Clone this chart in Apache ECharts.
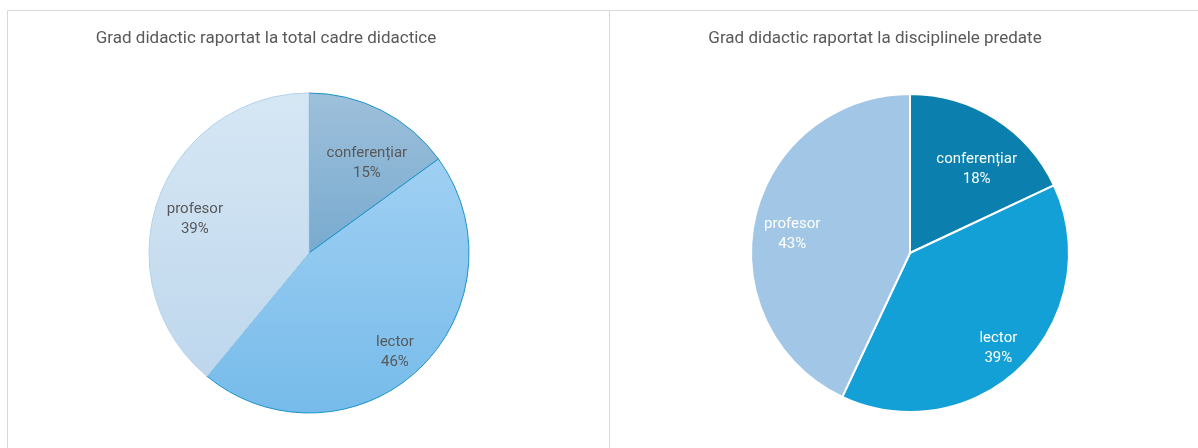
<!DOCTYPE html>
<html>
<head>
<meta charset="utf-8">
<script src="https://cdn.jsdelivr.net/npm/echarts@6/dist/echarts.min.js"></script>
<style>
  html, body { margin: 0; padding: 0; background: #fff; }
  #chart { width: 1198px; height: 448px; }
</style>
</head>
<body>
<div id="chart"></div>
<script>
// categorii si procente
const categories = ["conferențiar", "lector", "profesor"];
const totalCadre = [15, 46, 39];
const disciplinePredate = [18, 39, 43];
const titles = ["Grad didactic raportat la total cadre didactice", "Grad didactic raportat la disciplinele predate"];

// cat de departe de centru stau etichetele (fata de pozitia "inside") + mic ajustaj in px
const labelPush = [1.35, 1.6, 1.5];
const labelNudge = [[7, 10], [-5, 2], [3, 8]];

const leftStyles = [
  { color: grad("#9ec0db", "#78aacf"), borderColor: "#1a93c9", borderWidth: 1 },
  { color: grad("#a0d0f3", "#76bbea"), borderColor: "#1a93c9", borderWidth: 1 },
  { color: grad("#d6e7f4", "#bed7ed"), borderColor: "#b3d2ea", borderWidth: 1 }
];
const rightColors = ["#0b80ae", "#12a0d7", "#a2c7e6"];

function grad(a, b) {
  return { type: "linear", x: 0, y: 0, x2: 0, y2: 1, colorStops: [{ offset: 0, color: a }, { offset: 1, color: b }] };
}

const chart = echarts.init(document.getElementById("chart"));
const font = "Roboto";

function pushOut(cx, cy) {
  return function (params) {
    const i = params.dataIndex;
    const k = labelPush[i];
    const r = params.labelRect;
    const x = r.x + r.width / 2, y = r.y + r.height / 2;
    return {
      x: cx + (x - cx) * k + labelNudge[i][0],
      y: cy + (y - cy) * k + labelNudge[i][1],
      align: "center", verticalAlign: "middle"
    };
  };
}

chart.setOption({
  animation: false,
  graphic: [
    { type: "rect", shape: { x: 7.5, y: 10.5, width: 602, height: 460 }, style: { fill: "none", stroke: "#d9d9d9", lineWidth: 1 } },
    { type: "rect", shape: { x: 609.5, y: 10.5, width: 620, height: 460 }, style: { fill: "none", stroke: "#d9d9d9", lineWidth: 1 } }
  ],
  title: [
    { text: titles[0], left: 261, top: 25, textAlign: "center",
      textStyle: { fontFamily: font, fontSize: 17, fontWeight: "normal", color: "#595959" } },
    { text: titles[1], left: 870, top: 25, textAlign: "center",
      textStyle: { fontFamily: font, fontSize: 17, fontWeight: "normal", color: "#595959" } }
  ],
  series: [
    {
      type: "pie",
      center: [309, 253],
      radius: 160,
      startAngle: 90,
      clockwise: true,
      silent: true,
      data: categories.map((c, i) => ({ name: c, value: totalCadre[i], itemStyle: leftStyles[i] })),
      label: {
        position: "inside",
        fontFamily: font, fontSize: 15, color: "#595959", lineHeight: 20,
        formatter: p => p.name + "\n" + p.value + "%"
      },
      labelLayout: pushOut(309, 253)
    },
    {
      type: "pie",
      center: [910, 253],
      radius: 159,
      startAngle: 90,
      clockwise: true,
      silent: true,
      data: categories.map((c, i) => ({ name: c, value: disciplinePredate[i],
        itemStyle: { color: rightColors[i], borderColor: "#fff", borderWidth: 2 } })),
      label: {
        position: "inside",
        fontFamily: font, fontSize: 15, color: "#ffffff", lineHeight: 20,
        formatter: p => p.name + "\n" + p.value + "%"
      },
      labelLayout: pushOut(910, 253)
    }
  ]
});
</script>
</body>
</html>
